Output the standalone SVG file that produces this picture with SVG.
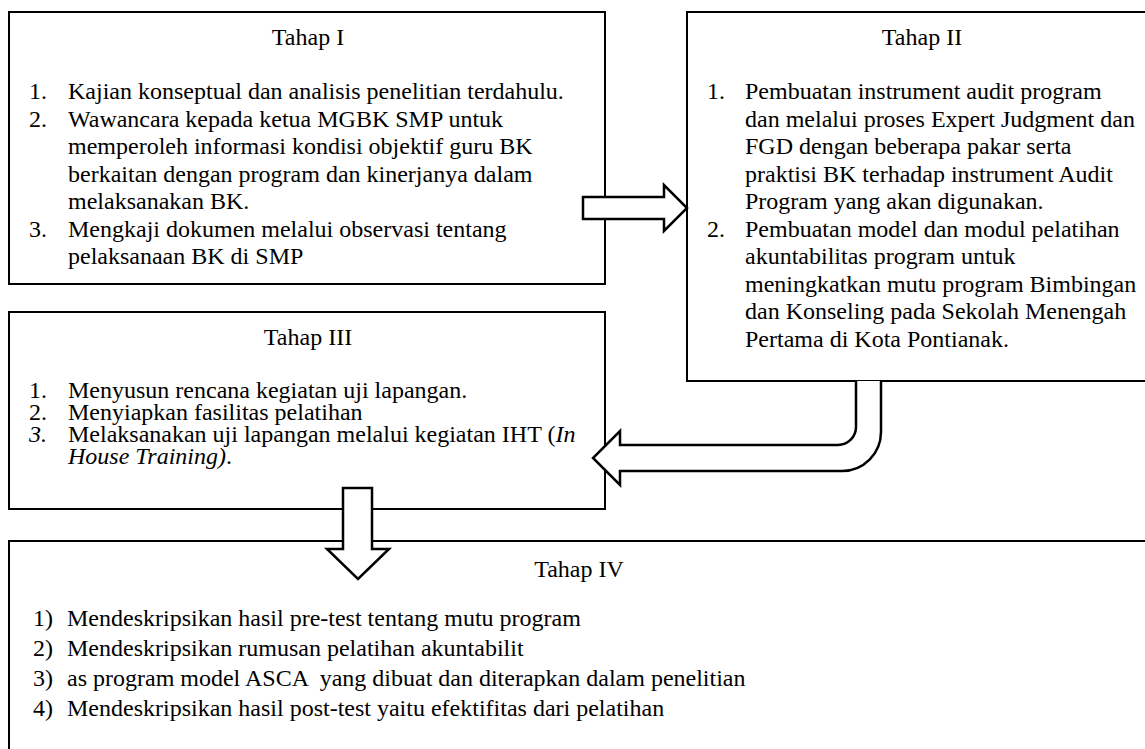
<svg xmlns="http://www.w3.org/2000/svg" width="1145" height="749" viewBox="0 0 1145 749" font-family="'Liberation Serif', 'Times New Roman', 'DejaVu Serif', serif">
<style>
.box{fill:#fff;stroke:#000;stroke-width:2}
.arr{fill:#fff;stroke:#000;stroke-width:2.5;stroke-linejoin:miter}
text{font-family:'Liberation Serif','Times New Roman','DejaVu Serif',serif;font-size:24px;fill:#000;white-space:pre}
.c{text-anchor:middle}
.i{font-style:italic}
</style>
<rect width="1145" height="749" fill="#fff"/>
<g id="tahap1">
<rect class="box" x="9" y="12" width="596" height="272"/>
<text class="c" x="308" y="45">Tahap I</text>
<text x="29" y="99">1.</text><text x="68" y="99">Kajian konseptual dan analisis penelitian terdahulu.</text>
<text x="29" y="126.5">2.</text><text x="68" y="126.5">Wawancara kepada ketua MGBK SMP untuk</text>
<text x="68" y="154">memperoleh informasi kondisi objektif guru BK</text>
<text x="68" y="181.5">berkaitan dengan program dan kinerjanya dalam</text>
<text x="68" y="209">melaksanakan BK.</text>
<text x="29" y="236.5">3.</text><text x="68" y="236.5">Mengkaji dokumen melalui observasi tentang</text>
<text x="68" y="264">pelaksanaan BK di SMP</text>
</g>
<g id="tahap2">
<rect class="box" x="687" y="12" width="470" height="369"/>
<text class="c" x="922" y="45">Tahap II</text>
<text x="707" y="99">1.</text><text x="745" y="99">Pembuatan instrument audit program</text>
<text x="745" y="126.5">dan melalui proses Expert Judgment dan</text>
<text x="745" y="154">FGD dengan beberapa pakar serta</text>
<text x="745" y="181.5">praktisi BK terhadap instrument Audit</text>
<text x="745" y="209">Program yang akan digunakan.</text>
<text x="707" y="236.5">2.</text><text x="745" y="236.5">Pembuatan model dan modul pelatihan</text>
<text x="745" y="264">akuntabilitas program untuk</text>
<text x="745" y="291.5">meningkatkan mutu program Bimbingan</text>
<text x="745" y="319">dan Konseling pada Sekolah Menengah</text>
<text x="745" y="346.5">Pertama di Kota Pontianak.</text>
</g>
<g id="tahap3">
<rect class="box" x="9" y="312" width="596" height="197"/>
<text class="c" x="308" y="345">Tahap III</text>
<text x="29" y="398">1.</text><text x="68" y="398">Menyusun rencana kegiatan uji lapangan.</text>
<text x="29" y="420">2.</text><text x="68" y="420">Menyiapkan fasilitas pelatihan</text>
<text x="29" y="442" class="i">3.</text><text x="68" y="442">Melaksanakan uji lapangan melalui kegiatan IHT (<tspan class="i">In</tspan></text>
<text x="68" y="464"><tspan class="i">House Training)</tspan>.</text>
</g>
<g id="tahap4">
<rect class="box" x="9" y="541" width="1150" height="230"/>
<text class="c" x="579" y="577">Tahap IV</text>
<text x="33" y="626">1)</text><text x="67" y="626">Mendeskripsikan hasil pre-test tentang mutu program</text>
<text x="33" y="656">2)</text><text x="67" y="656">Mendeskripsikan rumusan pelatihan akuntabilit</text>
<text x="33" y="686">3)</text><text x="67" y="686">as program model ASCA  yang dibuat dan diterapkan dalam penelitian</text>
<text x="33" y="716">4)</text><text x="67" y="716">Mendeskripsikan hasil post-test yaitu efektifitas dari pelatihan</text>
</g>
<g id="connectors">
<polygon class="arr" points="583,197 664,197 664,185 687,208 664,231 664,219 583,219"/>
<path class="arr" d="M856,381 L856,427 A18,18 0 0 1 838,445 L620,445 L620,431 L593,458 L620,485 L620,471 L842,471 A39,39 0 0 0 881,432 L881,381"/>
<polygon class="arr" points="343,488 372,488 372,549 389,549 358,579 327,549 343,549"/>
</g>
</svg>
